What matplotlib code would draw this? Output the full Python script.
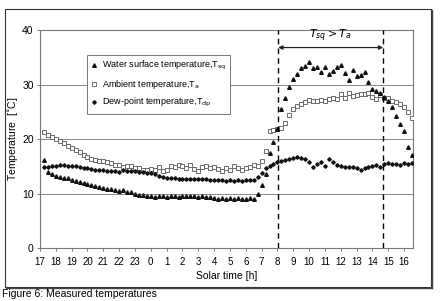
import numpy as np
import matplotlib
matplotlib.use("Agg")
import matplotlib.pyplot as plt
from matplotlib.patches import Rectangle
from matplotlib.lines import Line2D

plt.rcParams['font.family'] = ['Liberation Sans', 'DejaVu Sans']

# sampling times: hours elapsed since 17:00 (15-min steps, 17:15 ... 16:30)
time_h = np.arange(0.25, 23.51, 0.25)

tick_labels = ['17', '18', '19', '20', '21', '22', '23', '0', '1', '2', '3', '4',
               '5', '6', '7', '8', '9', '10', '11', '12', '13', '14', '15', '16']

T_ambient = [
    21.3, 20.7, 20.4, 20.0,
    19.7, 19.3, 18.8, 18.4,
    18.0, 17.6, 17.1, 16.7,
    16.4, 16.2, 16.0, 15.9,
    15.7, 15.6, 15.3, 15.2,
    14.8, 15.1, 15.0, 14.7,
    14.6, 14.4, 14.3, 14.5,
    14.3, 14.9, 14.2, 14.4,
    15.0, 14.8, 15.2, 15.0,
    14.6, 15.3, 14.5, 14.2,
    14.8, 15.0, 14.6, 14.9,
    14.5, 14.2, 14.6, 14.4,
    15.0, 14.6, 14.3, 14.7,
    14.9, 15.3, 15.0, 16.0,
    17.8, 21.4, 21.6, 21.8,
    22.0, 23.0, 24.5, 25.6,
    26.0, 26.5, 26.8, 27.1,
    26.9, 27.0, 27.1, 26.9,
    27.3, 27.5, 27.4, 28.2,
    27.6, 28.5, 27.9, 28.0,
    28.3, 28.2, 28.5, 27.8,
    27.3, 28.0, 27.6, 27.6,
    27.0, 26.8, 26.5, 25.8,
    25.0, 23.8,
]

T_water = [
    16.2, 14.0, 13.6, 13.3,
    13.1, 12.9, 12.8, 12.5,
    12.3, 12.1, 12.0, 11.8,
    11.6, 11.4, 11.2, 11.0,
    10.8, 10.9, 10.6, 10.5,
    10.6, 10.3, 10.2, 10.0,
    9.8, 9.7, 9.6, 9.5,
    9.4, 9.5, 9.6, 9.4,
    9.5, 9.5, 9.4, 9.6,
    9.5, 9.6, 9.5, 9.4,
    9.5, 9.4, 9.3, 9.1,
    9.0, 9.1, 9.0, 9.1,
    9.0, 9.1, 9.0, 9.0,
    9.2, 9.0, 10.0, 11.5,
    13.5, 17.5, 19.5, 21.8,
    25.5, 27.6, 29.5, 31.0,
    32.0, 33.0, 33.4, 34.2,
    33.0, 33.2, 32.4, 33.2,
    32.0, 32.5, 33.2, 33.6,
    32.2, 30.9, 32.7, 31.5,
    31.8, 32.4, 30.4, 29.1,
    28.8, 28.5, 27.8, 27.0,
    25.8, 24.2, 22.7, 21.5,
    18.5, 17.0,
]

T_dew = [
    14.8, 14.9, 15.0, 15.1,
    15.2, 15.2, 15.1, 15.0,
    15.0, 14.8, 14.7, 14.6,
    14.5, 14.4, 14.4, 14.3,
    14.2, 14.1, 14.1, 14.0,
    14.3, 14.2, 14.2, 14.1,
    14.0, 13.9, 13.8, 13.7,
    13.5, 13.3, 13.0, 12.9,
    12.8, 12.8, 12.7, 12.7,
    12.6, 12.6, 12.7, 12.7,
    12.6, 12.6, 12.5, 12.4,
    12.4, 12.4, 12.3, 12.4,
    12.3, 12.4, 12.3, 12.4,
    12.4, 12.5, 13.0, 13.8,
    14.6, 15.0, 15.4, 15.7,
    15.9, 16.1, 16.3, 16.6,
    16.7, 16.6, 16.3, 15.8,
    14.8, 15.4, 15.7, 15.1,
    16.3, 15.7, 15.2, 15.0,
    14.9, 14.9, 14.8, 14.6,
    14.4, 14.7, 14.9, 15.0,
    15.3, 14.8, 15.4, 15.6,
    15.5, 15.4, 15.3, 15.6,
    15.5, 15.6,
]

t_start = 15.05   # 8:03
t_end = 21.68     # 14:41

fig = plt.figure(figsize=(4.40, 3.01), dpi=100)
fig.patch.set_facecolor('white')

# outer frame with shadow
fig.add_artist(Rectangle((0.011, 0.047), 0.968, 0.923, transform=fig.transFigure,
                         fill=False, edgecolor='#333333', linewidth=0.8))
fig.add_artist(Line2D([0.981, 0.981], [0.043, 0.968], transform=fig.transFigure,
                      color='#444444', linewidth=1.0))
fig.add_artist(Line2D([0.014, 0.981], [0.043, 0.043], transform=fig.transFigure,
                      color='#444444', linewidth=1.0))

ax = fig.add_axes([0.0909, 0.176, 0.848, 0.724])
ax.set_xlim(0, 23.57)
ax.set_ylim(0, 40)

for y in (10, 20, 30):
    ax.axhline(y, color='#888888', linewidth=0.7, zorder=0)

ax.plot(time_h, T_ambient, linestyle='none', marker='s', markersize=2.4,
        markerfacecolor='white', markeredgecolor='#555555', markeredgewidth=0.6,
        label='Ambient temperature,T$_{\\mathrm{a}}$', zorder=3)
ax.plot(time_h, T_dew, linestyle='none', marker='D', markersize=1.8,
        color='#111111', label='Dew-point temperature,T$_{\\mathrm{dp}}$', zorder=3)
ax.plot(time_h, T_water, linestyle='none', marker='^', markersize=2.6,
        color='#111111', label='Water surface temperature,T$_{\\mathrm{sq}}$', zorder=4)

for xv in (t_start, t_end):
    ax.axvline(xv, color='black', linestyle=(0, (4, 3)), linewidth=1.0, zorder=5)

ax.annotate('', xy=(t_start, 36.8), xytext=(t_end, 36.8),
            arrowprops=dict(arrowstyle='<|-|>', color='#222222', lw=0.9,
                            mutation_scale=6, shrinkA=0, shrinkB=0))
ax.text((t_start + t_end) / 2, 37.4, '$T_{sq} > T_a$', ha='center', va='bottom',
        fontsize=8, family='serif')

ax.set_xticks(np.arange(0, 24))
ax.set_xticklabels(tick_labels, fontsize=7)
ax.set_yticks([0, 10, 20, 30, 40])
ax.set_yticklabels(['0', '10', '20', '30', '40'], fontsize=7.5)
ax.tick_params(axis='both', direction='out', length=2.5, width=0.6, color='#666666', pad=4)
ax.tick_params(axis='y', pad=2)

for s in ax.spines.values():
    s.set_color('#777777')
    s.set_linewidth(0.8)

ax.set_xlabel('Solar time [h]', fontsize=7.5, labelpad=3)
ax.set_ylabel('Temperature  [$^{\\circ}$C]', fontsize=7.5)
ax.yaxis.set_label_coords(-0.053, 0.5)

handles, labels = ax.get_legend_handles_labels()
order = [2, 0, 1]
leg = ax.legend([handles[i] for i in order], [labels[i] for i in order],
                loc='upper left', bbox_to_anchor=(0.113, 0.908), fontsize=6.5,
                frameon=True, fancybox=False, edgecolor='#777777', framealpha=1,
                handlelength=0.6, handletextpad=0.6, borderpad=0.5,
                labelspacing=0.6, markerscale=1.0)
leg.get_frame().set_linewidth(0.7)
leg.set_zorder(6)

fig.text(0.005, 0.022, 'Figure 6: Measured temperatures', fontsize=7.5, va='center', ha='left')

fig.savefig('out.png', dpi=100)
